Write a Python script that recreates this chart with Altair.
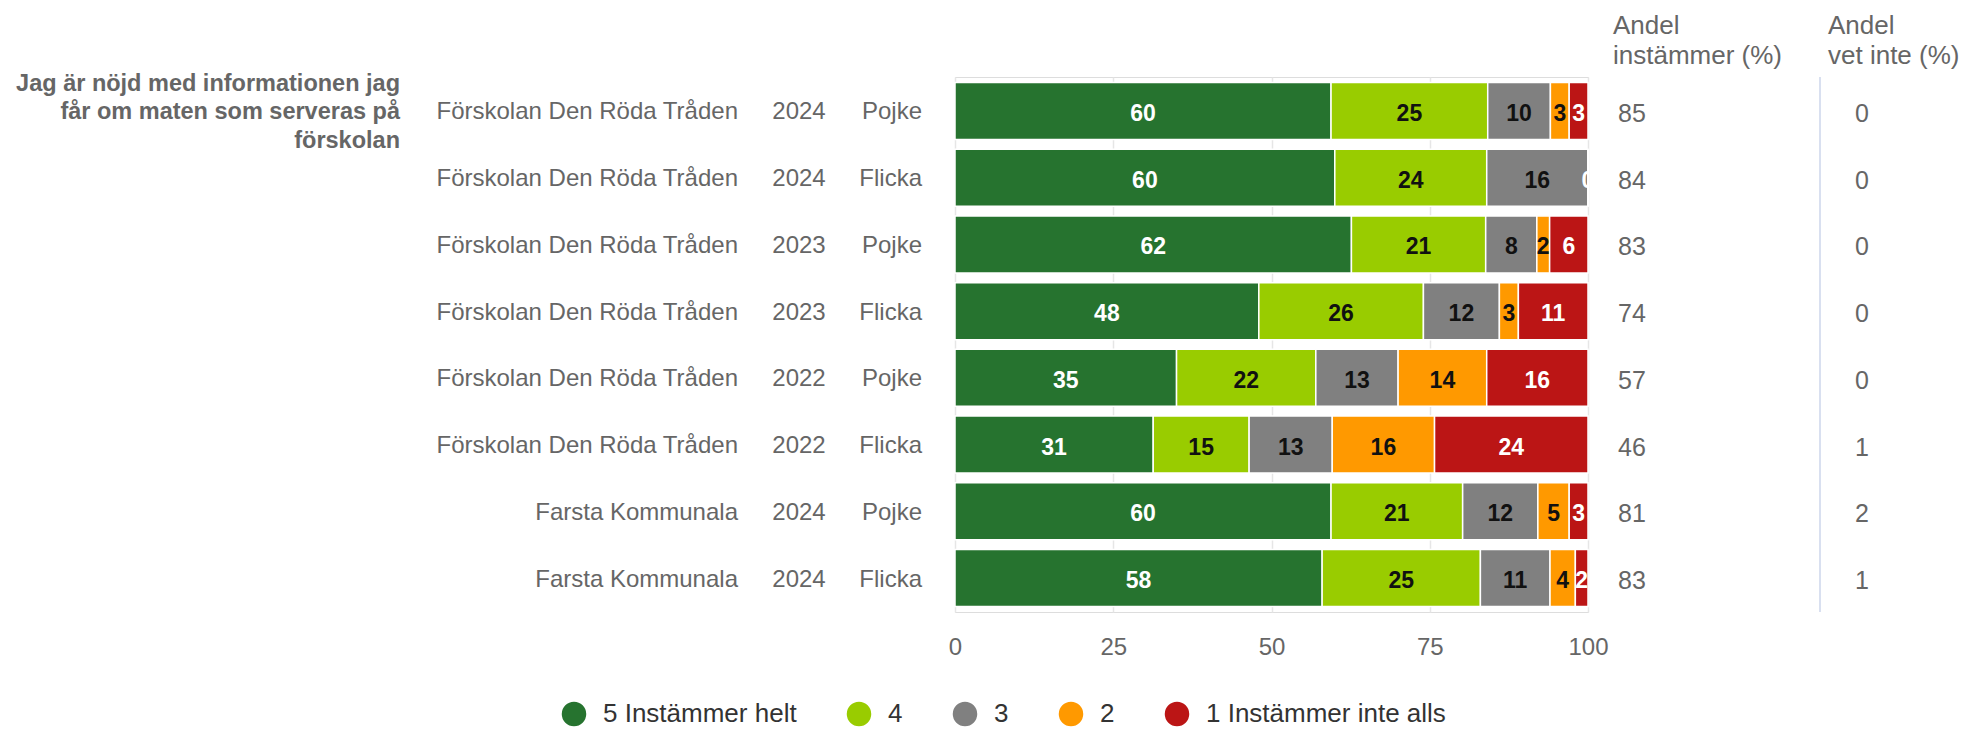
import altair as alt
import pandas as pd

# ---------------- data ----------------
TITLE_LINES = ["Jag är nöjd med informationen jag", "får om maten som serveras på", "förskolan"]
SCHOOLS = ["Förskolan Den Röda Tråden"] * 6 + ["Farsta Kommunala"] * 2
YEARS = ["2024", "2024", "2023", "2023", "2022", "2022", "2024", "2024"]
GENDERS = ["Pojke", "Flicka", "Pojke", "Flicka", "Pojke", "Flicka", "Pojke", "Flicka"]

CATEGORIES = ["5 Instämmer helt", "4", "3", "2", "1 Instämmer inte alls"]
COLORS = ["#26732f", "#99cc00", "#808080", "#ff9900", "#bb1515"]

S5 = [60, 60, 62, 48, 35, 31, 60, 58]
S4 = [25, 24, 21, 26, 22, 15, 21, 25]
S3 = [10, 16, 8, 12, 13, 13, 12, 11]
S2 = [3, 0, 2, 3, 14, 16, 5, 4]
S1 = [3, 0, 6, 11, 16, 24, 3, 2]

ANDEL_INSTAMMER = [85, 84, 83, 74, 57, 46, 81, 83]
ANDEL_VET_INTE = [0, 0, 0, 0, 0, 1, 2, 1]

HEADER_INSTAMMER = ["Andel", "instämmer (%)"]
HEADER_VET_INTE = ["Andel", "vet inte (%)"]

X_TICKS = [0, 25, 50, 75, 100]

# ---------------- tables ----------------
ROW_KEYS = [f"{s} {y} {g}" for s, y, g in zip(SCHOOLS, YEARS, GENDERS)]
SERIES = [S5, S4, S3, S2, S1]

long_rows = []
for i, key in enumerate(ROW_KEYS):
    for k, cat in enumerate(CATEGORIES):
        long_rows.append({"row": key, "cat": cat, "rank": k, "v": SERIES[k][i]})
long_df = pd.DataFrame(long_rows)

wide_df = pd.DataFrame({
    "row": ROW_KEYS,
    "school": SCHOOLS,
    "year": YEARS,
    "gender": GENDERS,
    "andel": ANDEL_INSTAMMER,
    "vet": ANDEL_VET_INTE,
})

title_df = pd.DataFrame({"row": [ROW_KEYS[0]], "q": ["\n".join(TITLE_LINES)]})
head_df = pd.DataFrame({"h1": ["\n".join(HEADER_INSTAMMER)], "h2": ["\n".join(HEADER_VET_INTE)]})

FONT = "Liberation Sans"
GREY = "#666666"
AXIS_BLUE = "#ccd6eb"

W, H = 633, 535

y_scale = alt.Scale(type="band", domain=ROW_KEYS, paddingInner=0.146, paddingOuter=0.082)

y_axis = alt.Axis(
    labels=False, ticks=True, tickBand="extent", tickSize=20, tickColor=AXIS_BLUE,
    tickWidth=1.5, domainColor=AXIS_BLUE, domainWidth=1.5, grid=False, title=None,
    offset=1, zindex=1,
)
x_axis = alt.Axis(
    values=X_TICKS, grid=True, gridColor="#e6e6e6", gridWidth=1.5, domain=False,
    ticks=False, tickSize=0, labelFontSize=24, labelColor=GREY, labelFont=FONT,
    labelPadding=35, labelBaseline="middle", labelFlush=False, title=None,
)

base = (
    alt.Chart(long_df)
    .transform_joinaggregate(total="sum(v)", groupby=["row"])
    .transform_calculate(pct="datum.v / datum.total * 100")
    .transform_window(end="sum(pct)", groupby=["row"],
                      sort=[alt.SortField("rank", order="ascending")], frame=[None, 0])
    .transform_calculate(start="datum.end - datum.pct", mid="datum.end - datum.pct / 2")
)

bars = base.mark_bar(stroke="white", strokeWidth=1.5).encode(
    x=alt.X("start:Q", scale=alt.Scale(domain=[0, 100], nice=False, zero=True), axis=x_axis, title=None),
    x2="end:Q",
    y=alt.Y("row:N", scale=y_scale, axis=y_axis, title=None),
    color=alt.Color(
        "cat:N",
        scale=alt.Scale(domain=CATEGORIES, range=COLORS),
        sort=CATEGORIES,
        legend=alt.Legend(
            title=None, orient="none", legendX=-394, legendY=624, direction="horizontal",
            symbolType="circle", symbolSize=600, symbolStrokeWidth=0, symbolOpacity=1,
            labelFontSize=26, labelColor="#333333", labelFont=FONT, labelLimit=500,
            columnPadding=49, labelOffset=16,
        ),
    ),
    order=alt.Order("rank:Q"),
)

lab_common = dict(fontSize=23, fontWeight="bold", font=FONT, dy=3, clip=True)
labels_white = base.transform_filter("datum.rank == 0 || datum.rank == 4").mark_text(
    color="white", **lab_common
).encode(
    x=alt.X("mid:Q"),
    y=alt.Y("row:N", scale=y_scale, axis=None),
    text=alt.Text("v:Q"),
)
labels_dark = base.transform_filter("datum.rank > 0 && datum.rank < 4 && datum.v > 0").mark_text(
    color="#111111", **lab_common
).encode(
    x=alt.X("mid:Q"),
    y=alt.Y("row:N", scale=y_scale, axis=None),
    text=alt.Text("v:Q"),
)

wbase = alt.Chart(wide_df).encode(y=alt.Y("row:N", scale=y_scale, axis=None))
school_txt = wbase.mark_text(align="right", baseline="middle", fontSize=24, font=FONT,
                             color=GREY, dy=1.5).encode(x=alt.value(-217), text="school:N")
year_txt = wbase.mark_text(align="center", baseline="middle", fontSize=24, font=FONT,
                           color=GREY, dy=1.5).encode(x=alt.value(-156), text="year:N")
gender_txt = wbase.mark_text(align="right", baseline="middle", fontSize=24, font=FONT,
                             color=GREY, dy=1.5).encode(x=alt.value(-33), text="gender:N")
andel_txt = wbase.mark_text(align="left", baseline="middle", fontSize=25, font=FONT,
                            color=GREY, dy=3).encode(x=alt.value(663), text="andel:Q")
vet_txt = wbase.mark_text(align="center", baseline="middle", fontSize=25, font=FONT,
                          color=GREY, dy=3).encode(x=alt.value(907), text="vet:Q")

title_txt = alt.Chart(title_df).mark_text(
    align="right", baseline="middle", fontSize=23.5, fontWeight="bold", font=FONT,
    color=GREY, lineBreak="\n", lineHeight=28.3, dy=-26.8,
).encode(x=alt.value(-555), y=alt.Y("row:N", scale=y_scale, axis=None), text="q:N")

head1 = alt.Chart(head_df).mark_text(
    align="left", baseline="middle", fontSize=26, font=FONT, color=GREY,
    lineBreak="\n", lineHeight=30,
).encode(x=alt.value(658), y=alt.value(-51), text="h1:N")
head2 = alt.Chart(head_df).mark_text(
    align="left", baseline="middle", fontSize=26, font=FONT, color=GREY,
    lineBreak="\n", lineHeight=30,
).encode(x=alt.value(873), y=alt.value(-51), text="h2:N")

divider = alt.Chart(head_df).mark_rule(color=AXIS_BLUE, strokeWidth=1.5).encode(
    x=alt.value(865), y=alt.value(0), y2=alt.value(H)
)

chart = (
    alt.layer(bars, labels_white, labels_dark, school_txt, year_txt, gender_txt,
              andel_txt, vet_txt, title_txt, head1, head2, divider)
    .properties(
        width=W, height=H,
        padding={"left": 947, "top": 69, "right": 371, "bottom": 123},
        autosize=alt.AutoSizeParams(type="none"),
        background="white",
    )
    .configure_view(strokeWidth=0)
    .configure(font=FONT)
)

chart.save("out.html", embed_options={"renderer": "svg", "actions": False})
